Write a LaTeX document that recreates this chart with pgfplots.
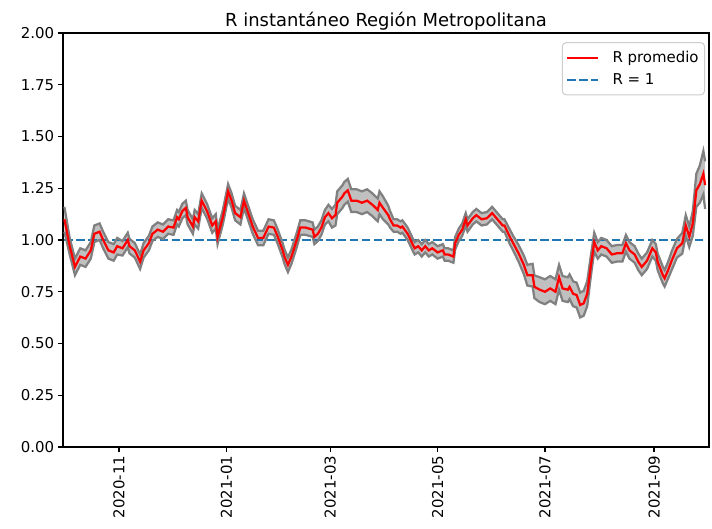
\documentclass[border=0pt]{standalone}
\usepackage{fontspec}
\setmainfont{DejaVu Sans}
\usepackage{pgfplots}
\pgfplotsset{compat=1.18}
\usepgfplotslibrary{fillbetween}
\usepackage{pgfplotstable}
\definecolor{mplblue}{HTML}{1F77B4}
\definecolor{bandfill}{HTML}{C0C0C0}
\definecolor{bandedge}{HTML}{808080}

% x = days since 2020-10-01
\pgfplotstableread{
x m lo hi
0 1.10 1.04 1.16
3 0.97 0.93 1.01
6 0.87 0.83 0.91
9 0.92 0.88 0.96
12 0.91 0.87 0.95
15 0.95 0.91 0.99
17 1.03 0.99 1.07
20 1.04 1.00 1.08
22 1.00 0.96 1.04
25 0.95 0.91 0.99
28 0.94 0.90 0.98
30 0.97 0.93 1.01
33 0.96 0.925 0.995
36 1.00 0.965 1.035
37 0.97 0.935 1.005
40 0.95 0.915 0.985
43 0.895 0.86 0.93
45 0.95 0.915 0.985
48 0.985 0.95 1.02
50 1.03 0.995 1.065
53 1.05 1.015 1.085
56 1.04 1.005 1.075
59 1.065 1.03 1.10
62 1.06 1.025 1.095
64 1.11 1.075 1.145
65 1.10 1.065 1.135
67 1.14 1.105 1.175
69 1.155 1.12 1.19
70 1.11 1.075 1.145
73 1.065 1.03 1.10
74 1.11 1.075 1.145
76 1.09 1.055 1.125
78 1.19 1.155 1.225
81 1.14 1.105 1.175
84 1.07 1.035 1.105
86 1.09 1.055 1.125
87 1.015 0.98 1.05
90 1.11 1.075 1.145
93 1.235 1.20 1.27
95 1.19 1.155 1.225
97 1.13 1.095 1.165
100 1.11 1.075 1.145
102 1.19 1.155 1.225
104 1.14 1.105 1.175
107 1.065 1.03 1.10
110 1.01 0.975 1.045
113 1.01 0.975 1.045
116 1.065 1.03 1.10
119 1.06 1.025 1.095
121 1.02 0.985 1.055
124 0.95 0.915 0.985
125 0.92 0.885 0.955
127 0.88 0.845 0.915
129 0.92 0.885 0.955
132 1.00 0.965 1.035
134 1.06 1.025 1.095
137 1.06 1.025 1.095
141 1.05 1.015 1.085
142 1.015 0.98 1.05
144 1.03 0.995 1.065
146 1.06 1.025 1.095
148 1.11 1.075 1.145
150 1.13 1.09 1.17
152 1.105 1.06 1.15
154 1.12 1.07 1.17
155 1.18 1.125 1.235
158 1.21 1.155 1.265
159 1.225 1.17 1.28
161 1.24 1.185 1.295
163 1.19 1.135 1.245
166 1.19 1.135 1.245
169 1.18 1.125 1.235
172 1.19 1.135 1.245
175 1.17 1.115 1.225
178 1.145 1.09 1.20
179 1.18 1.125 1.235
181 1.155 1.10 1.21
184 1.12 1.075 1.165
185 1.10 1.06 1.14
187 1.07 1.04 1.10
189 1.07 1.04 1.10
191 1.06 1.03 1.09
192 1.065 1.035 1.095
195 1.03 1.00 1.06
198 0.976 0.946 1.006
199 0.96 0.93 0.99
201 0.97 0.94 1.00
203 0.95 0.92 0.98
205 0.97 0.94 1.00
207 0.95 0.92 0.98
209 0.96 0.93 0.99
212 0.94 0.91 0.97
215 0.95 0.92 0.98
216 0.93 0.90 0.96
218 0.93 0.90 0.96
221 0.92 0.89 0.95
222 0.985 0.955 1.015
224 1.024 0.994 1.054
226 1.05 1.02 1.08
228 1.10 1.07 1.13
229 1.07 1.04 1.10
232 1.105 1.075 1.135
234 1.12 1.09 1.15
237 1.10 1.07 1.13
240 1.105 1.075 1.135
243 1.13 1.10 1.16
246 1.10 1.07 1.13
249 1.07 1.04 1.10
250 1.07 1.04 1.10
253 1.016 0.981 1.051
255 0.984 0.949 1.019
258 0.936 0.896 0.976
261 0.88 0.835 0.925
263 0.83 0.78 0.88
266 0.83 0.775 0.885
267 0.774 0.719 0.829
270 0.76 0.70 0.82
273 0.75 0.69 0.81
276 0.766 0.706 0.826
279 0.75 0.69 0.81
281 0.82 0.76 0.88
283 0.766 0.706 0.826
286 0.76 0.70 0.82
287 0.774 0.714 0.834
289 0.74 0.68 0.80
291 0.734 0.674 0.794
293 0.686 0.626 0.746
295 0.694 0.634 0.754
297 0.74 0.68 0.80
299 0.87 0.82 0.92
301 0.99 0.945 1.035
303 0.95 0.91 0.99
305 0.97 0.93 1.01
308 0.96 0.92 1.00
311 0.93 0.89 0.97
314 0.936 0.896 0.976
317 0.936 0.896 0.976
319 0.984 0.944 1.024
321 0.95 0.91 0.99
324 0.93 0.89 0.97
326 0.895 0.855 0.935
328 0.87 0.83 0.91
331 0.90 0.86 0.94
334 0.96 0.92 1.00
336 0.94 0.90 0.98
337 0.895 0.855 0.935
340 0.83 0.79 0.87
341 0.815 0.775 0.855
343 0.855 0.815 0.895
345 0.90 0.855 0.945
348 0.96 0.915 1.005
351 0.984 0.934 1.034
353 1.07 1.02 1.12
355 1.016 0.966 1.066
357 1.08 1.02 1.14
359 1.24 1.16 1.32
361 1.27 1.18 1.36
363 1.32 1.22 1.43
364 1.265 1.15 1.38
}\rdata

\begin{document}
\begin{tikzpicture}
\begin{axis}[
  width=646bp, height=414bp, scale only axis,
  xmin=-0.8, xmax=366.2, ymin=0, ymax=2,
  ytick={0,0.25,0.5,0.75,1,1.25,1.5,1.75,2},
  yticklabel style={/pgf/number format/.cd, fixed, fixed zerofill, precision=2, assume math mode=true},
  xtick={31,92,151,212,273,335},
  xticklabels={2020-11,2021-01,2021-03,2021-05,2021-07,2021-09},
  xticklabel style={rotate=90, anchor=east},
  tick label style={font=\fontsize{15}{18}\selectfont},
  tick align=outside, major tick length=5.25bp,
  xtick pos=left, ytick pos=left,
  tick style={black, line width=1.2bp},
  axis line style={line width=1.2bp},
  legend style={at={(0.994,0.978)}, anchor=north east, draw=black!20, rounded corners=4bp,
    line width=1bp, font=\fontsize{15}{18}\selectfont, row sep=5bp,
    inner xsep=4bp, inner ysep=7bp, nodes={inner sep=2bp},
    /tikz/every odd column/.append style={column sep=11bp}},
  legend cell align=left,
  legend image code/.code={\draw[#1] (0bp,0bp) -- (31bp,0bp);},
]
\addlegendimage{red, line width=2.25bp}
\addlegendentry{R promedio}
\addlegendimage{mplblue, line width=2.25bp, dash pattern=on 8.3bp off 3.6bp}
\addlegendentry{R = 1}
\addplot[forget plot, mplblue, line width=2.25bp, dash pattern=on 8.3bp off 3.6bp] coordinates {(0,1) (364,1)};
\addplot[forget plot, name path=hi, bandedge, line width=2.25bp] table[x=x, y=hi] {\rdata};
\addplot[forget plot, name path=lo, bandedge, line width=2.25bp] table[x=x, y=lo] {\rdata};
\addplot[forget plot, bandfill] fill between[of=hi and lo];
\addplot[forget plot, red, line width=2.25bp] table[x=x, y=m] {\rdata};
\end{axis}
\node[anchor=base, font=\fontsize{18}{21}\selectfont] at ([yshift=6.3bp]current axis.north) {R instantáneo Región Metropolitana};
\pgfresetboundingbox
\path ([xshift=-63bp,yshift=-82bp]current axis.south west) rectangle ([xshift=3bp,yshift=33bp]current axis.north east);
\end{tikzpicture}
\end{document}
